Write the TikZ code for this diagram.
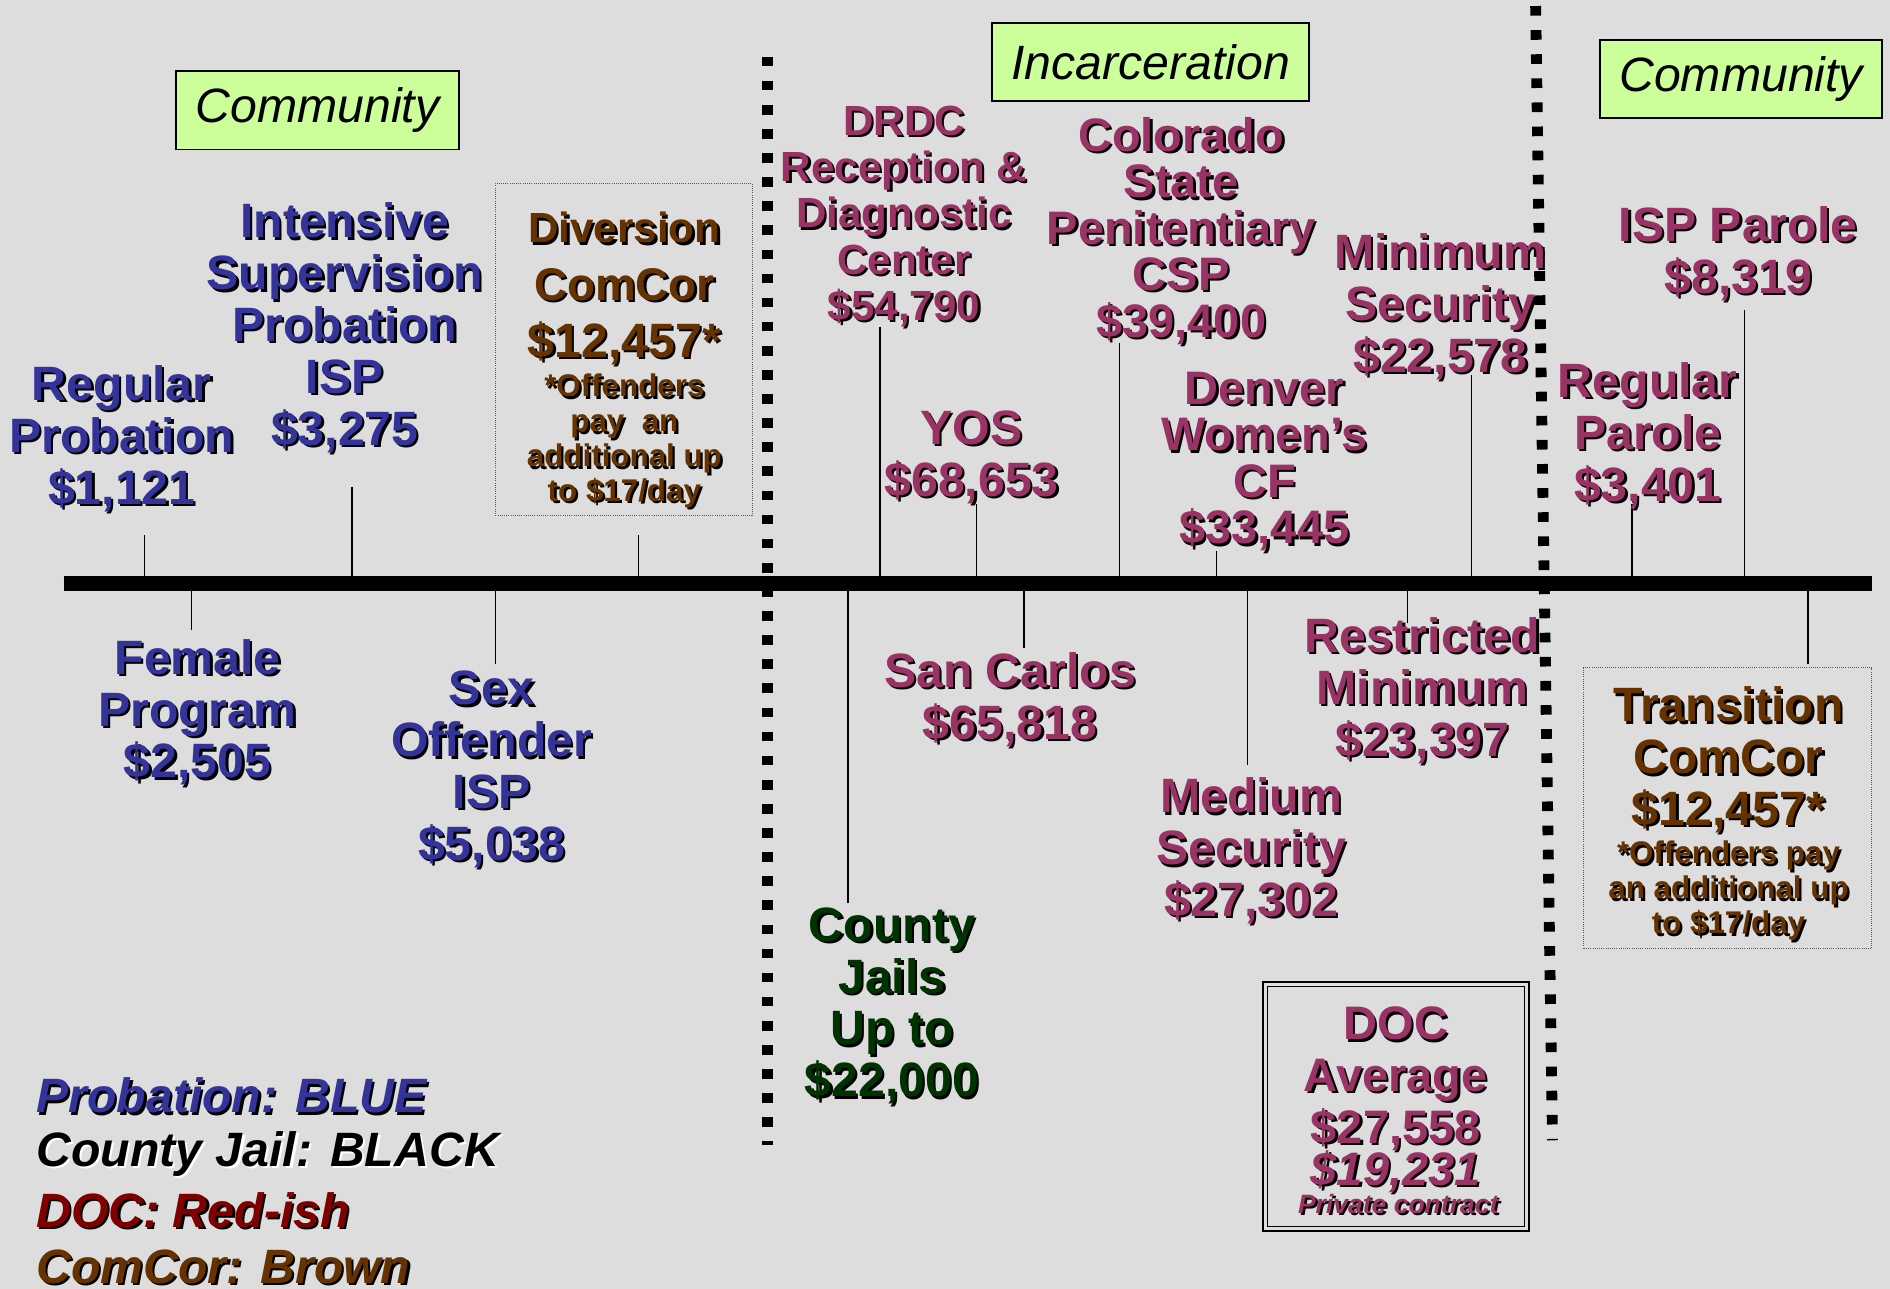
\documentclass[tikz,border=0pt]{standalone}
\usepackage{fontspec}
\setmainfont{Liberation Sans}

\definecolor{slidebg}{RGB}{221,221,221}
\definecolor{probblue}{RGB}{51,51,153}
\definecolor{docred}{RGB}{153,51,102}
\definecolor{ccbrown}{RGB}{102,51,0}
\definecolor{jailgreen}{RGB}{0,51,0}
\definecolor{keyred}{RGB}{128,0,0}
\definecolor{tagfill}{RGB}{204,255,153}

\newcommand{\costfont}{\bfseries\fontsize{40}{43}\selectfont}
\newcommand{\tightfont}{\bfseries\fontsize{39}{38.5}\selectfont}
\newcommand{\drdcfont}{\bfseries\fontsize{35}{38.5}\selectfont}
\newcommand{\notefont}{\bfseries\fontsize{26}{29}\selectfont}
\newcommand{\keyfont}{\bfseries\itshape\fontsize{40}{48}\selectfont}
\newcommand{\shcol}{black}

\tikzset{
  cost/.style={align=center, inner sep=0pt, font=\costfont},
  prob/.style={cost, text=probblue},
  doc/.style={cost, text=docred},
  comcor/.style={cost, text=ccbrown},
  jail/.style={cost, text=jailgreen},
  tag/.style={draw=black, line width=1.3pt, fill=tagfill, minimum height=65pt, inner sep=0pt, font=\itshape\fontsize{40}{43}\selectfont},
  notebox/.style={draw=black!65, densely dotted, line width=0.8pt, inner sep=0pt},
  tick/.style={line width=1pt},
  timebar/.style={line width=12pt},
  divider/.style={line width=9pt, dash pattern=on 8pt off 12pt},
}

% text with the slide's drop shadow
\newcommand{\shtext}[4][]{%
  \node[cost,#1,text=\shcol,xshift=1.9pt,yshift=-1.9pt] at (#3) {#4};
  \node[cost,#1] (#2) at (#3) {#4};}

\begin{document}
\begin{tikzpicture}[x=1pt, y=-1pt]
\useasboundingbox (0,0) rectangle (1568,1069);
\fill[slidebg] (0,0) rectangle (1568,1069);

% section tags
\node[tag, minimum width=235pt] (commL) at (263.5,91.5) {Community};
\node[tag, minimum width=263pt] (incar) at (954.5,51.5) {Incarceration};
\node[tag, minimum width=234pt] (commR) at (1444.5,65.5) {Community};

% comcor boxes and doc average box
\node[notebox, minimum width=213pt, minimum height=276pt] (divbox) at (517.5,290) {};
\node[notebox, minimum width=239pt, minimum height=233pt] (transbox) at (1433.5,670.5) {};
\node[draw, double=slidebg, double distance=2.5pt, line width=1.2pt, minimum width=217pt, minimum height=203pt] (docbox) at (1158,918) {};

% ticks
\coordinate (barL) at (53,484);
\coordinate (barR) at (1553,484);
\coordinate (regprob-t) at (120,444);
\coordinate (isp-t) at (292,404);
\coordinate (div-t) at (530,444);
\coordinate (drdc-t) at (730,271);
\coordinate (yos-t) at (810,418);
\coordinate (csp-t) at (929,284.5);
\coordinate (dwcf-t) at (1009,457);
\coordinate (minsec-t) at (1221,311.5);
\coordinate (regpar-t) at (1354,418);
\coordinate (isppar-t) at (1447,257.5);
\coordinate (female-t) at (159,523);
\coordinate (sexoff-t) at (411,551);
\coordinate (jails-t) at (703.5,749.5);
\coordinate (sancarlos-t) at (849.5,537.5);
\coordinate (medsec-t) at (1035,635);
\coordinate (restmin-t) at (1168,517);
\coordinate (trans-t) at (1500,551);
\draw[tick] (regprob-t) -- (regprob-t |- barL);
\draw[tick] (isp-t) -- (isp-t |- barL);
\draw[tick] (div-t) -- (div-t |- barL);
\draw[tick] (drdc-t) -- (drdc-t |- barL);
\draw[tick] (yos-t) -- (yos-t |- barL);
\draw[tick] (csp-t) -- (csp-t |- barL);
\draw[tick] (dwcf-t) -- (dwcf-t |- barL);
\draw[tick] (minsec-t) -- (minsec-t |- barL);
\draw[tick] (regpar-t) -- (regpar-t |- barL);
\draw[tick] (isppar-t) -- (isppar-t |- barL);
\draw[tick] (female-t) -- (female-t |- barL);
\draw[tick] (sexoff-t) -- (sexoff-t |- barL);
\draw[tick] (jails-t) -- (jails-t |- barL);
\draw[tick] (sancarlos-t) -- (sancarlos-t |- barL);
\draw[tick] (medsec-t) -- (medsec-t |- barL);
\draw[tick] (restmin-t) -- (restmin-t |- barL);
\draw[tick] (trans-t) -- (trans-t |- barL);

% timeline and dividers
\draw[timebar] (barL) -- (barR);
\coordinate (divL-top) at (637,47);
\coordinate (divL-bot) at (637,950);
\coordinate (divR-top) at (1274,5);
\coordinate (divR-bot) at (1288,946);
\draw[divider] (divL-top) -- (divL-bot);
\draw[divider] (divR-top) -- (divR-bot);

% probation
\shtext[prob]{regprob}{101,364}{Regular\\Probation\\\$1,121}
\shtext[prob]{isp}{286,272}{Intensive\\Supervision\\Probation\\ISP\\\$3,275}
\shtext[prob]{female}{164,591}{Female\\Program\\\$2,505}
\shtext[prob]{sexoff}{408,638.5}{Sex\\Offender\\ISP\\\$5,038}

% diversion comcor
\shtext[comcor,font=\bfseries\fontsize{35}{38}\selectfont]{div-a}{518,189}{Diversion}
\shtext[comcor,font=\bfseries\fontsize{38}{42}\selectfont]{div-b}{518,236}{ComCor}
\shtext[comcor]{div-c}{518,285}{\$12,457*}
\shtext[comcor,font=\notefont]{div-d}{518,366}{*Offenders\\pay\ \ an\\additional up\\to \$17/day}

% incarceration
\shtext[doc,font=\drdcfont]{drdc}{750,179.5}{DRDC\\Reception \&\\Diagnostic\\Center\\\$54,790}
\shtext[doc]{yos}{806,379.5}{YOS\\\$68,653}
\shtext[doc,font=\tightfont]{csp}{980,191.5}{Colorado\\State\\Penitentiary\\CSP\\\$39,400}
\shtext[doc,font=\tightfont]{dwcf}{1049,383}{Denver\\Women’s\\CF\\\$33,445}
\shtext[doc]{minsec}{1195,254.5}{Minimum\\Security\\\$22,578}
\shtext[jail]{jails}{740,834.5}{County\\Jails\\Up to\\\$22,000}
\shtext[doc]{sancarlos}{838,580.5}{San Carlos\\\$65,818}
\shtext[doc]{medsec}{1038,706}{Medium\\Security\\\$27,302}
\shtext[doc]{restmin}{1180,573}{Restricted\\Minimum\\\$23,397}

% doc average
\shtext[doc,font=\bfseries\fontsize{39}{43}\selectfont]{docavg}{1158,895}{DOC\\Average\\\$27,558}
\shtext[doc,font=\bfseries\itshape\fontsize{39}{43}\selectfont]{docpriv}{1158,972}{\$19,231}
\shtext[doc,font=\bfseries\itshape\fontsize{22}{24}\selectfont]{docprivtxt}{1160,999}{Private contract}

% parole and transition
\shtext[doc]{isppar}{1442,210.5}{ISP Parole\\\$8,319}
\shtext[doc]{regpar}{1367,361.5}{Regular\\Parole\\\$3,401}
\shtext[comcor]{trans-a}{1434,630.5}{Transition\\ComCor\\\$12,457*}
\shtext[comcor,font=\notefont]{trans-b}{1434,739}{*Offenders pay\\an additional up\\to \$17/day}

% colour key
\shtext[anchor=west,font=\keyfont,text=probblue]{key-prob}{30,909}{Probation: BLUE}
\renewcommand{\shcol}{white}
\shtext[anchor=west,font=\keyfont,text=black]{key-jail}{30,957}{County Jail: BLACK}
\renewcommand{\shcol}{black}
\shtext[anchor=west,font=\keyfont,text=keyred]{key-doc}{30,1004}{DOC: Red-ish}
\shtext[anchor=west,font=\keyfont,text=ccbrown]{key-cc}{30,1051}{ComCor: Brown}
\end{tikzpicture}
\end{document}
